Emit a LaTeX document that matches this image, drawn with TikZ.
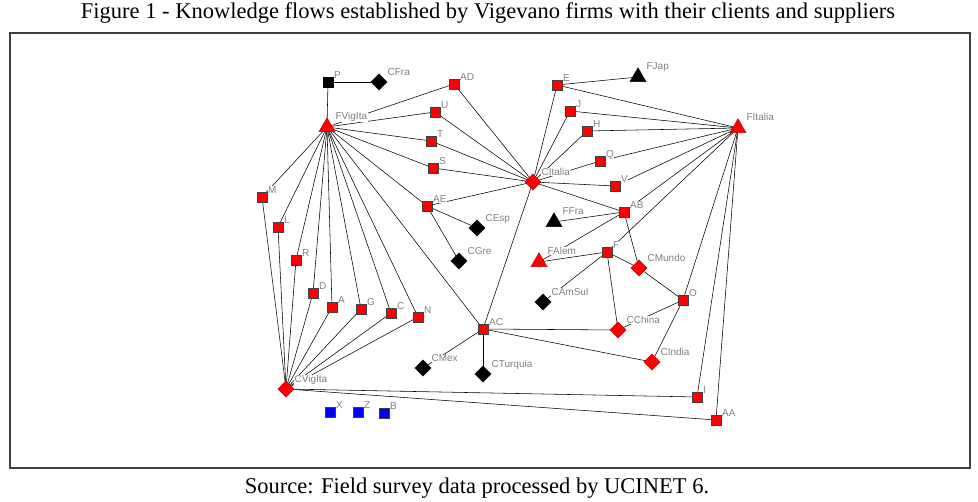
\documentclass[tikz,border=0pt]{standalone}
\usepackage{fontspec}
\setmainfont{Liberation Serif}
\newfontfamily\lblfont{Liberation Sans}
\usetikzlibrary{shapes.geometric,backgrounds}
\tikzset{
  base/.style={inner sep=0pt, line width=0.4pt},
  sq/.style={base, rectangle, minimum size=10pt, fill=red, draw=black!75},
  bsq/.style={sq, fill=black, draw=black},
  blsq/.style={sq, fill=blue, draw=black!75},
  dia/.style={base, diamond, minimum width=16.5pt, minimum height=16.5pt, fill=red, draw=red!70!black},
  bdia/.style={dia, fill=black, draw=black},
  tri/.style={base, regular polygon, regular polygon sides=3, minimum size=18.5pt, fill=red, draw=red!70!black},
  btri/.style={tri, fill=black, draw=black},
  lbl/.style={font=\lblfont\fontsize{10}{12}\selectfont, text=black!50, fill=white, inner sep=0.4pt, anchor=base west},
  lnk/.style={draw=black, line width=0.55pt},
  boxline/.style={draw=black!75, line width=1.2pt},
  capt/.style={font=\fontsize{22.5}{26}\selectfont, inner sep=0pt}
}
\newcommand\Sq[4][sq]{\node[#1] (#2) at (#3,#4) {};
  \node[lbl] (#2-l) at ([xshift=5.5pt,yshift=3.5pt]#2.center) {#2};}
\newcommand\Dia[4][dia]{\node[#1] (#2) at (#3,#4) {};
  \node[lbl] (#2-l) at ([xshift=8pt,yshift=6pt]#2.center) {#2};}
\newcommand\Tri[4][tri]{\node[#1] (#2) at (#3,#4) {};
  \node[lbl] (#2-l) at ([xshift=8pt,yshift=7.5pt]#2.center) {#2};}
\begin{document}
\begin{tikzpicture}[x=1pt,y=-1pt]
\useasboundingbox (0,0) rectangle (978,502);
\node[capt] (title) at (488,13) {Figure 1 - Knowledge flows established by Vigevano firms with their clients and suppliers};
\node[capt] (caption) at (477,488) {Source: Field survey data processed by UCINET 6.};
\draw[boxline] (10,33) rectangle (970,468);

% nodes
\Sq[bsq]{P}{328}{82}
\Dia[bdia]{CFra}{379}{82}
\Sq{AD}{454}{84}
\Tri{FVigIta}{327}{127}
\Sq{U}{435}{112}
\Sq{T}{431}{141}
\Sq{S}{433}{168}
\Sq{AE}{427}{206}
\Sq{M}{262}{197}
\Sq{L}{278}{227}
\Sq{R}{296}{260}
\Sq{D}{313}{293}
\Sq{A}{332}{307}
\Sq{G}{361}{309}
\Sq{C}{391}{313}
\Sq{N}{418}{317}
\Dia{CVigIta}{286}{389}
\Sq[blsq]{X}{330}{412}
\Sq[blsq]{Z}{358}{412}
\Sq[blsq]{B}{384}{413}
\Dia[bdia]{CEsp}{477}{228}
\Dia[bdia]{CGre}{459}{261}
\Sq{AC}{483}{329}
\Dia[bdia]{CMex}{423}{368}
\Dia[bdia]{CTurquia}{483}{374}
\Dia{CItalia}{533}{182}
\Sq{E}{557}{85}
\Tri[btri]{FJap}{638}{77}
\Sq{J}{570}{111}
\Sq{H}{587}{131}
\Sq{Q}{600}{161}
\Sq{V}{615}{186}
\Sq{AB}{624}{212}
\Tri[btri]{FFra}{554}{222}
\Tri{FAlem}{539}{262}
\Sq{F}{607}{252}
\Dia{CMundo}{639}{268}
\Dia[bdia]{CAmSul}{543}{302}
\Sq{O}{683}{300}
\Dia{CChina}{618}{330}
\Dia{CIndia}{652}{362}
\Sq{I}{697}{397}
\Sq{AA}{716}{420}
\Tri{FItalia}{738}{128}

% connectors
\begin{scope}[on background layer]
\foreach \a/\b in {
  FVigIta/P, FVigIta/AD, FVigIta/U, FVigIta/T, FVigIta/S, FVigIta/AE,
  FVigIta/M, FVigIta/L, FVigIta/R, FVigIta/D, FVigIta/A, FVigIta/G,
  FVigIta/C, FVigIta/N, FVigIta/AC,
  P/CFra,
  CVigIta/M, CVigIta/L, CVigIta/R, CVigIta/D, CVigIta/A, CVigIta/G,
  CVigIta/C, CVigIta/N, CVigIta/I, CVigIta/AA,
  CItalia/AD, CItalia/U, CItalia/T, CItalia/S, CItalia/AE, CItalia/E,
  CItalia/J, CItalia/H, CItalia/Q, CItalia/V, CItalia/AB, CItalia/AC,
  FItalia/E, FItalia/J, FItalia/H, FItalia/Q, FItalia/V, FItalia/AB,
  FItalia/F, FItalia/O, FItalia/I, FItalia/AA,
  E/FJap, AE/CEsp, AE/CGre,
  AB/FFra, AB/FAlem, AB/CMundo,
  F/FAlem, F/CAmSul, F/CMundo, F/CChina,
  O/CMundo, O/CChina, O/CIndia,
  AC/CChina, AC/CIndia, AC/CMex, AC/CTurquia}
  \draw[lnk] (\a.center) -- (\b.center);
\end{scope}
\end{tikzpicture}
\end{document}
